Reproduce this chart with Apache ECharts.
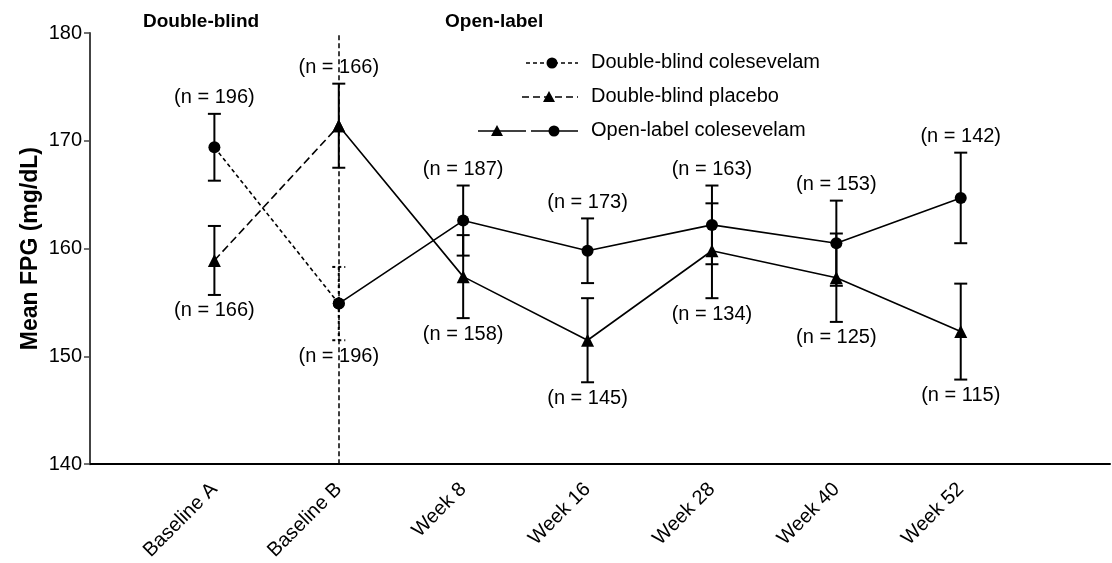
<!DOCTYPE html>
<html>
<head>
<meta charset="utf-8">
<script src="https://cdn.jsdelivr.net/npm/echarts@6/dist/echarts.min.js"></script>
<style>
html,body{margin:0;padding:0;background:#fff;}
#chart{width:1112px;height:563px;}
</style>
</head>
<body>
<div id="chart"></div>
<script>
// ---- data ----
const categories = ['Baseline A', 'Baseline B', 'Week 8', 'Week 16', 'Week 28', 'Week 40', 'Week 52'];
const yTicks = [140, 150, 160, 170, 180];

// Double-blind phase (Baseline A, Baseline B)
const dbColesevelamMean = [169.4, 154.9];
const dbColesevelamErr  = [3.1, 3.4];
const dbColesevelamN    = [196, 196];

const dbPlaceboMean = [158.9, 171.4];
const dbPlaceboErr  = [3.2, 3.9];
const dbPlaceboN    = [166, 166];

// Open-label phase (Week 8 .. Week 52)
const olFromColesevelamMean = [162.6, 159.8, 162.2, 160.5, 164.7];
const olFromColesevelamErr  = [3.25, 3.0, 3.65, 3.95, 4.2];
const olFromColesevelamN    = [187, 173, 163, 153, 142];

const olFromPlaceboMean = [157.4, 151.5, 159.8, 157.3, 152.3];
const olFromPlaceboErr  = [3.85, 3.9, 4.4, 4.1, 4.45];
const olFromPlaceboN    = [158, 145, 134, 125, 115];

const legendNames = ['Double-blind colesevelam', 'Double-blind placebo', 'Open-label colesevelam'];
const phaseTitles = ['Double-blind', 'Open-label'];
const yTitle = 'Mean FPG (mg/dL)';

// ---- build ----
const FONT = '"Liberation Sans", Arial, sans-serif';
const xPos = i => i + 1; // category index -> axis value

const dbColPts = dbColesevelamMean.map((v, i) => [xPos(i), v]);
const dbPlaPts = dbPlaceboMean.map((v, i) => [xPos(i), v]);
const olColPts = [[xPos(1), dbColesevelamMean[1]]].concat(olFromColesevelamMean.map((v, i) => [xPos(i + 2), v]));
const olPlaPts = [[xPos(1), dbPlaceboMean[1]]].concat(olFromPlaceboMean.map((v, i) => [xPos(i + 2), v]));

// error bar items: [x, mean, err, n, labelAbove(1/0), dashed(1/0)]
const errItems = [];
function higher(a, b) { return a >= b ? 1 : 0; }
dbColesevelamMean.forEach((v, i) => errItems.push([xPos(i), v, dbColesevelamErr[i], dbColesevelamN[i], higher(v, dbPlaceboMean[i]), i === 1 ? 1 : 0]));
dbPlaceboMean.forEach((v, i) => errItems.push([xPos(i), v, dbPlaceboErr[i], dbPlaceboN[i], higher(v, dbColesevelamMean[i]), 0]));
olFromColesevelamMean.forEach((v, i) => errItems.push([xPos(i + 2), v, olFromColesevelamErr[i], olFromColesevelamN[i], higher(v, olFromPlaceboMean[i]), 0]));
olFromPlaceboMean.forEach((v, i) => errItems.push([xPos(i + 2), v, olFromPlaceboErr[i], olFromPlaceboN[i], higher(v, olFromColesevelamMean[i]), 0]));

const chart = echarts.init(document.getElementById('chart'), null, { renderer: 'canvas' });

const lineBase = { type: 'line', symbolSize: 12, z: 5, itemStyle: { color: '#000' }, animation: false };

const option = {
  backgroundColor: '#fff',
  animation: false,
  grid: { left: 90, right: 2, top: 33, bottom: 96 },
  xAxis: {
    type: 'value', min: 0, max: 8.2, interval: 1,
    axisLine: { show: true, onZero: false, lineStyle: { color: '#000', width: 2 } },
    axisTick: { show: false },
    splitLine: { show: false },
    axisLabel: {
      rotate: 45, margin: 22, fontFamily: FONT, fontSize: 20, color: '#000',
      showMaxLabel: false,
      formatter: v => categories[v - 1] || ''
    }
  },
  yAxis: {
    type: 'value', min: yTicks[0], max: yTicks[yTicks.length - 1], interval: 10,
    name: yTitle, nameLocation: 'middle', nameRotate: 90, nameGap: 48,
    nameMoveOverlap: false,
    nameTextStyle: { fontFamily: FONT, fontSize: 23, fontWeight: 'bold', color: '#000' },
    axisLine: { show: true, lineStyle: { color: '#444', width: 2 } },
    axisTick: { show: true, length: 6, lineStyle: { color: '#444', width: 1.5 } },
    splitLine: { show: false },
    axisLabel: { fontFamily: FONT, fontSize: 20, color: '#000', margin: 8 }
  },
  graphic: [
    { type: 'text', left: 143, top: 12, style: { text: phaseTitles[0], font: 'bold 19px ' + FONT, fill: '#000' } },
    { type: 'text', left: 445, top: 12, style: { text: phaseTitles[1], font: 'bold 19px ' + FONT, fill: '#000' } },
    // legend row 1
    { type: 'line', shape: { x1: 526, y1: 63, x2: 578, y2: 63 }, style: { stroke: '#000', lineWidth: 1.5, lineDash: [4, 3] } },
    { type: 'circle', shape: { cx: 552, cy: 63, r: 5.5 }, style: { fill: '#000' } },
    { type: 'text', left: 591, top: 52, style: { text: legendNames[0], font: '20px ' + FONT, fill: '#000' } },
    // legend row 2
    { type: 'line', shape: { x1: 522, y1: 97, x2: 578, y2: 97 }, style: { stroke: '#000', lineWidth: 1.5, lineDash: [7, 4] } },
    { type: 'polygon', shape: { points: [[549, 91], [555, 102], [543, 102]] }, style: { fill: '#000' } },
    { type: 'text', left: 591, top: 86, style: { text: legendNames[1], font: '20px ' + FONT, fill: '#000' } },
    // legend row 3
    { type: 'line', shape: { x1: 478, y1: 131, x2: 526, y2: 131 }, style: { stroke: '#000', lineWidth: 1.5 } },
    { type: 'polygon', shape: { points: [[497, 125], [503, 136], [491, 136]] }, style: { fill: '#000' } },
    { type: 'line', shape: { x1: 531, y1: 131, x2: 578, y2: 131 }, style: { stroke: '#000', lineWidth: 1.5 } },
    { type: 'circle', shape: { cx: 554, cy: 131, r: 5.5 }, style: { fill: '#000' } },
    { type: 'text', left: 591, top: 120, style: { text: legendNames[2], font: '20px ' + FONT, fill: '#000' } }
  ],
  series: [
    {
      type: 'custom', name: 'errorbars', z: 3, animation: false,
      data: errItems,
      renderItem: function (params, api) {
        const x = api.value(0), m = api.value(1), e = api.value(2), n = api.value(3);
        const above = api.value(4) === 1, dashed = api.value(5) === 1;
        const top = api.coord([x, m + e]);
        const bot = api.coord([x, m - e]);
        const hw = 6.5;
        const ls = { stroke: '#000', lineWidth: 2, lineDash: dashed ? [3, 3] : null };
        const label = '(n = ' + n + ')';
        const children = [
          { type: 'line', shape: { x1: top[0], y1: top[1], x2: bot[0], y2: bot[1] }, style: ls },
          { type: 'line', shape: { x1: top[0] - hw, y1: top[1], x2: top[0] + hw, y2: top[1] }, style: ls },
          { type: 'line', shape: { x1: bot[0] - hw, y1: bot[1], x2: bot[0] + hw, y2: bot[1] }, style: ls },
          {
            type: 'text',
            x: top[0], y: above ? top[1] - 6 : bot[1] + 6,
            style: {
              text: label, font: '20px ' + FONT, fill: '#000',
              textAlign: 'center', textVerticalAlign: above ? 'bottom' : 'top'
            }
          }
        ];
        return { type: 'group', children: children };
      }
    },
    Object.assign({}, lineBase, {
      name: legendNames[0], data: dbColPts, symbol: 'circle',
      lineStyle: { color: '#000', width: 1.6, type: [4, 3] },
      markLine: {
        silent: true, symbol: 'none', label: { show: false },
        lineStyle: { color: '#000', width: 1.5, type: [5, 3] },
        data: [{ xAxis: xPos(1) }]
      }
    }),
    Object.assign({}, lineBase, {
      name: legendNames[1], data: dbPlaPts, symbol: 'triangle', symbolSize: 13,
      lineStyle: { color: '#000', width: 1.6, type: [8, 4] }
    }),
    Object.assign({}, lineBase, {
      name: legendNames[2], data: olColPts, symbol: 'circle',
      lineStyle: { color: '#000', width: 1.6, type: 'solid' }
    }),
    Object.assign({}, lineBase, {
      name: legendNames[2] + ' (from placebo)', data: olPlaPts, symbol: 'triangle', symbolSize: 13,
      lineStyle: { color: '#000', width: 1.6, type: 'solid' }
    })
  ]
};
chart.setOption(option);
</script>
</body>
</html>
